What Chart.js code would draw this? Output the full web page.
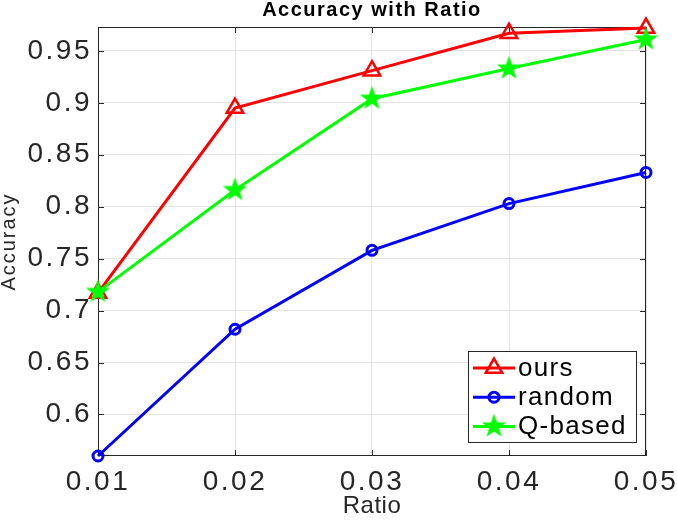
<!DOCTYPE html>
<html>
  <head>
    <script src="https://cdn.jsdelivr.net/npm/chart.js"></script>
    <style>
      body { margin: 0; background: #fff; }
    </style>
  </head>
  <body>
    <div style="width: 677px; height: 521px">
      <canvas id="Chart" width="677" height="521"></canvas>
    </div>
    <script>
      const ratios = [0.01, 0.02, 0.03, 0.04, 0.05];
      const ours = [0.717, 0.895, 0.931, 0.967, 0.972];
      const random = [0.56, 0.682, 0.758, 0.803, 0.833];
      const qBased = [0.718, 0.816, 0.904, 0.933, 0.961];
      const xTicks = [0.01, 0.02, 0.03, 0.04, 0.05];
      const yTicks = [0.6, 0.65, 0.7, 0.75, 0.8, 0.85, 0.9, 0.95];
      const seriesNames = ["ours", "random", "Q-based"];

      const axisColor = "#262626";
      Chart.defaults.font.family = "'Liberation Sans', Arial, sans-serif";
      Chart.defaults.color = axisColor;

      // filled five-point star, like matlab's pentagram marker
      function makeStar(color, r) {
        const c = document.createElement("canvas");
        const size = Math.ceil(r * 2 + 4);
        c.width = c.height = size;
        const g = c.getContext("2d");
        g.beginPath();
        for (let i = 0; i < 10; i++) {
          const rad = i % 2 ? r * 0.4 : r;
          const ang = -Math.PI / 2 + (i * Math.PI) / 5;
          g.lineTo(size / 2 + rad * Math.cos(ang), size / 2 + rad * Math.sin(ang));
        }
        g.closePath();
        g.fillStyle = color;
        g.fill();
        g.strokeStyle = color;
        g.lineWidth = 1.5;
        g.stroke();
        return c;
      }

      function toPoints(values) {
        return ratios.map((r, i) => ({ x: r, y: values[i] }));
      }

      // matlab's font renders wider, so spread the letters a bit
      function spaced(obj, method, spacing) {
        const orig = obj[method].bind(obj);
        obj[method] = (...args) => {
          const c = obj.ctx;
          const prev = c.letterSpacing;
          c.letterSpacing = spacing;
          orig(...args);
          c.letterSpacing = prev;
        };
      }

      const letterSpacing = {
        id: "letterSpacing",
        afterLayout(chart) {
          if (chart._spaced) return;
          chart._spaced = true;
          spaced(chart.scales.x, "drawLabels", "2.5px");
          spaced(chart.scales.y, "drawLabels", "2.5px");
          spaced(chart.scales.x, "drawTitle", "0.5px");
          spaced(chart.scales.y, "drawTitle", "2px");
          spaced(chart.titleBlock, "draw", "1.5px");
        },
      };

      // box round the plot + matlab style inner ticks
      const frame = {
        id: "frame",
        beforeDatasetsDraw(chart) {
          const { ctx, chartArea: a, scales } = chart;
          ctx.save();
          ctx.strokeStyle = axisColor;
          ctx.lineWidth = 1;
          ctx.beginPath();
          for (const v of xTicks) {
            const px = Math.round(scales.x.getPixelForValue(v)) + 0.5;
            ctx.moveTo(px, a.bottom);
            ctx.lineTo(px, a.bottom - 6);
            ctx.moveTo(px, a.top);
            ctx.lineTo(px, a.top + 6);
          }
          for (const v of yTicks) {
            const py = Math.round(scales.y.getPixelForValue(v)) + 0.5;
            ctx.moveTo(a.left, py);
            ctx.lineTo(a.left + 6, py);
            ctx.moveTo(a.right, py);
            ctx.lineTo(a.right - 6, py);
          }
          ctx.stroke();
          ctx.strokeRect(a.left + 0.5, a.top + 0.5, a.width - 1, a.height - 1);
          ctx.restore();
        },
      };

      const boxLegend = {
        id: "boxLegend",
        afterDraw(chart) {
          const { ctx, chartArea: a } = chart;
          const x0 = a.right - 178;
          const y0 = a.bottom - 105;
          ctx.save();
          ctx.fillStyle = "#fff";
          ctx.fillRect(x0, y0, 168, 91);
          ctx.strokeStyle = axisColor;
          ctx.lineWidth = 1;
          ctx.strokeRect(x0 + 0.5, y0 + 0.5, 168, 91);
          ctx.font = "26px 'Liberation Sans', Arial, sans-serif";
          ctx.letterSpacing = "1.3px";
          ctx.textBaseline = "alphabetic";
          chart.data.datasets.forEach((ds, i) => {
            const cy = y0 + 17 + i * 29.2;
            ctx.strokeStyle = ds.borderColor;
            ctx.lineWidth = ds.borderWidth;
            ctx.beginPath();
            ctx.moveTo(x0 + 5, cy);
            ctx.lineTo(x0 + 47, cy);
            ctx.stroke();
            ctx.fillStyle = "rgba(0,0,0,0)";
            ctx.lineWidth = ds.pointBorderWidth;
            Chart.helpers.drawPoint(
              ctx,
              { pointStyle: ds.pointStyle, radius: ds.pointRadius, borderWidth: ds.pointBorderWidth, rotation: 0 },
              x0 + 26,
              cy
            );
            ctx.fillStyle = "#000";
            ctx.fillText(ds.label, x0 + 50, cy + 8);
          });
          ctx.restore();
        },
      };

      const datasets = [
        {
          label: seriesNames[0],
          data: toPoints(ours),
          borderColor: "#ff0000",
          borderWidth: 3,
          pointStyle: "triangle",
          pointRadius: 9.5,
          pointBorderWidth: 2.5,
          pointBackgroundColor: "rgba(0,0,0,0)",
          order: 3,
        },
        {
          label: seriesNames[1],
          data: toPoints(random),
          borderColor: "#0000ff",
          borderWidth: 3,
          pointStyle: "circle",
          pointRadius: 5,
          pointBorderWidth: 3,
          pointBackgroundColor: "rgba(0,0,0,0)",
          order: 2,
        },
        {
          label: seriesNames[2],
          data: toPoints(qBased),
          borderColor: "#00ff00",
          borderWidth: 3,
          pointStyle: makeStar("#00ff00", 10.5),
          pointRadius: 10,
          pointBorderWidth: 0,
          order: 1,
        },
      ];

      new Chart(document.getElementById("Chart"), {
        type: "line",
        data: { datasets: datasets },
        options: {
          responsive: false,
          animation: false,
          devicePixelRatio: 1,
          events: [],
          layout: { padding: { left: 0, right: 31, top: 0, bottom: 0 } },
          elements: { line: { tension: 0 } },
          clip: false,
          scales: {
            x: {
              type: "linear",
              min: 0.01,
              max: 0.05,
              afterBuildTicks: (s) => {
                s.ticks = xTicks.map((v) => ({ value: v }));
              },
              afterFit: (s) => {
                s.height = 65;
                s.paddingLeft = 0;
                s.paddingRight = 0;
              },
              grid: { color: "#e3e3e3", drawTicks: false },
              border: { display: false },
              ticks: {
                padding: 9,
                maxRotation: 0,
                autoSkip: false,
                font: { size: 28 },
                callback: (v) => v.toFixed(2),
              },
              title: {
                display: true,
                text: "Ratio",
                font: { size: 24, lineHeight: 1.2 },
                padding: 0,
              },
            },
            y: {
              min: 0.56,
              max: 0.973,
              afterBuildTicks: (s) => {
                s.ticks = yTicks.map((v) => ({ value: v }));
              },
              afterFit: (s) => {
                s.width = 98;
                s.paddingTop = 0;
                s.paddingBottom = 0;
              },
              grid: { color: "#e3e3e3", drawTicks: false },
              border: { display: false },
              ticks: {
                padding: 6,
                font: { size: 28 },
                callback: (v) => String(+v.toFixed(2)),
              },
              title: {
                display: true,
                text: "Accuracy",
                font: { size: 20, lineHeight: 1 },
                padding: { top: -1, bottom: 0 },
              },
            },
          },
          plugins: {
            legend: { display: false },
            tooltip: { enabled: false },
            title: {
              display: true,
              text: "Accuracy with Ratio",
              fullSize: false,
              color: "#000",
              font: { size: 20, weight: "bold", lineHeight: 1 },
              padding: { top: 0, bottom: 7 },
            },
          },
        },
        plugins: [letterSpacing, frame, boxLegend],
      });
    </script>
  </body>
</html>
